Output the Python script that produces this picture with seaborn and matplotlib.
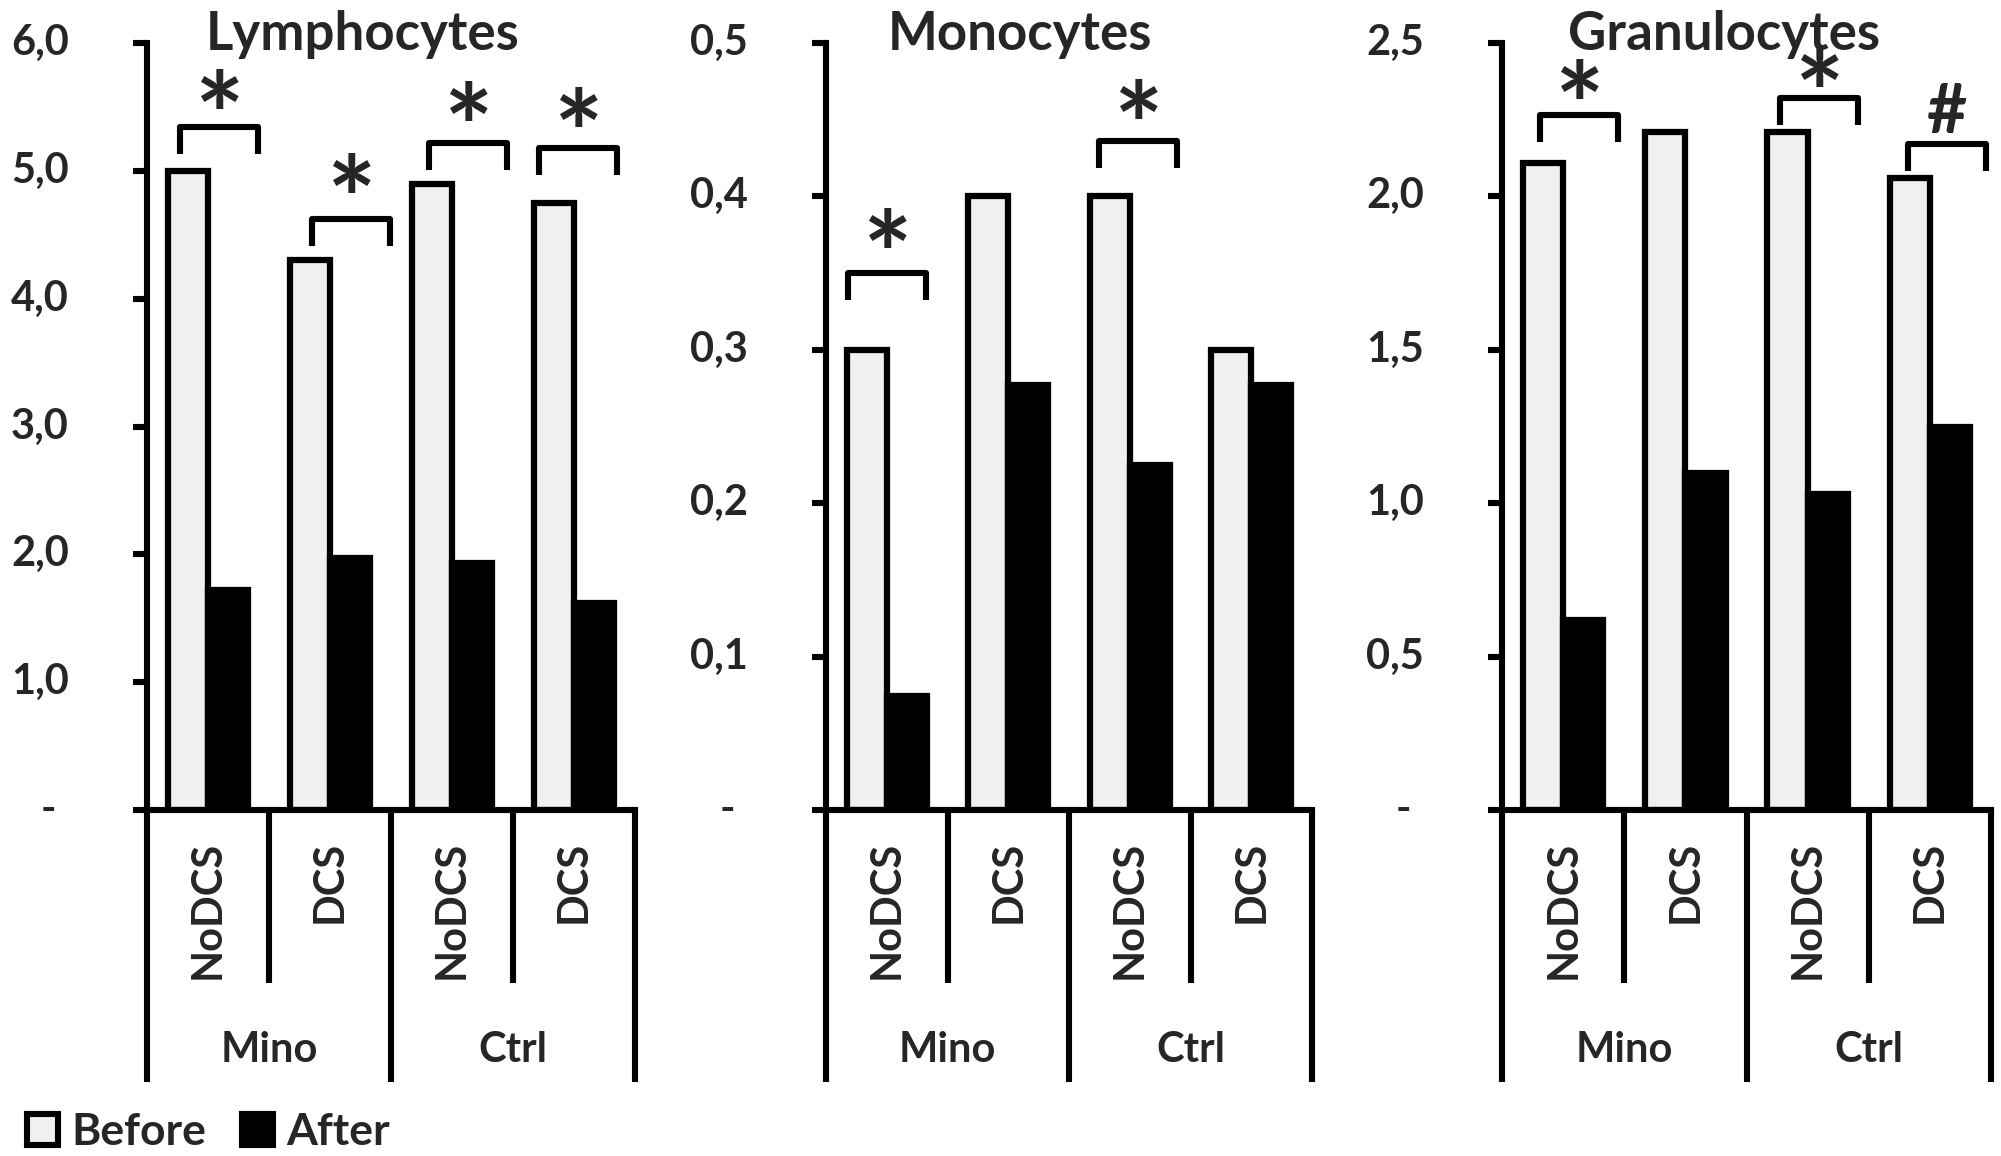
import numpy as np
import pandas as pd
import matplotlib
matplotlib.use('Agg')
import matplotlib.pyplot as plt
import matplotlib.transforms as mtrans
from matplotlib.patches import Patch
import seaborn as sns

sns.set_style('white')
plt.rcParams['font.family'] = ['Lato', 'DejaVu Sans']
plt.rcParams['font.weight'] = 'bold'

# data
conditions = ['NoDCS', 'DCS', 'NoDCS', 'DCS']
treatments = ['Mino', 'Ctrl']
periods = ['Before', 'After']

lymph_before = [5.0, 4.3, 4.9, 4.75]
lymph_after = [1.72, 1.97, 1.93, 1.62]
mono_before = [0.30, 0.40, 0.40, 0.30]
mono_after = [0.074, 0.277, 0.225, 0.277]
gran_before = [2.11, 2.21, 2.21, 2.06]
gran_after = [0.62, 1.10, 1.03, 1.25]

lymph_ticks = ['-', '1,0', '2,0', '3,0', '4,0', '5,0', '6,0']
mono_ticks = ['-', '0,1', '0,2', '0,3', '0,4', '0,5']
gran_ticks = ['-', '0,5', '1,0', '1,5', '2,0', '2,5']

# significance marks: (group, bracket height, symbol, x shift, gap above bracket in px)
lymph_marks = [(0, 5.34, '*', 0.09, 17), (1, 4.62, '*', 0.17, 25), (2, 5.22, '*', 0.13, 20),
               (3, 5.18, '*', 0.03, 19)]
mono_marks = [(0, 0.35, '*', 0.0, 24), (2, 0.436, '*', 0.065, 21)]
gran_marks = [(0, 2.265, '*', 0.13, 15), (2, 2.32, '*', 0.09, 10), (3, 2.17, '#', 0.14, 11)]

colors = {'Before': '#f0f0f0', 'After': 'black'}

W, H = 2001, 1156
fig = plt.figure(figsize=(W / 100, H / 100), dpi=100)

top_px, zero_px = 43, 810
LW = 4.4


def draw_panel(left_px, right_px, before, after, ticklabels, marks, title, title_x):
    ax = fig.add_axes([left_px / W, 1 - zero_px / H, (right_px - left_px) / W, (zero_px - top_px) / H])
    df = pd.DataFrame({
        'group': [0, 1, 2, 3] * 2,
        'period': ['Before'] * 4 + ['After'] * 4,
        'value': before + after,
    })
    sns.barplot(data=df, x='group', y='value', hue='period', hue_order=periods,
                palette=colors, saturation=1, edgecolor='black', linewidth=4.5,
                width=0.66, legend=False, ax=ax)
    ticks = [float(t.replace(',', '.')) if t != '-' else 0.0 for t in ticklabels]
    ymax = ticks[-1]
    ax.set_xlim(-0.5, 3.5)
    ax.set_ylim(0, ymax)
    ax.set_xlabel('')
    ax.set_ylabel('')
    ax.set_xticks([])
    ax.set_yticks(ticks)
    ax.tick_params(axis='y', length=10, width=LW, labelleft=False, left=True, color='black')
    for s in ['top', 'right']:
        ax.spines[s].set_visible(False)
    for s in ['left', 'bottom']:
        ax.spines[s].set_linewidth(LW)
        ax.spines[s].set_color('black')
        ax.spines[s].set_zorder(5)

    # tick labels
    ytrans = ax.get_yaxis_transform()
    for val, lab in zip(ticks, ticklabels):
        if lab == '-':
            off = mtrans.ScaledTranslation(-0.99, 0, fig.dpi_scale_trans)
            ax.text(0, val, lab, transform=ytrans + off, ha='center', va='center', fontsize=30)
        else:
            off = mtrans.ScaledTranslation(-0.78, 0, fig.dpi_scale_trans)
            ax.text(0, val, lab, transform=ytrans + off, ha='right', va='center', fontsize=30)

    # category axis below
    axh = zero_px - top_px
    xtrans = ax.get_xaxis_transform()
    for xb in [0.5, 2.5]:
        ax.plot([xb, xb], [0, -(983 - zero_px) / axh], transform=xtrans, clip_on=False,
                color='black', lw=LW, solid_capstyle='butt')
    for xb in [-0.5, 1.5, 3.5]:
        ax.plot([xb, xb], [0, -(1082 - zero_px) / axh], transform=xtrans, clip_on=False,
                color='black', lw=LW, solid_capstyle='butt')
    for i, c in enumerate(conditions):
        ax.text(i, -(841 - zero_px) / axh, c, transform=xtrans, rotation=90,
                ha='center', va='top', fontsize=30)
    for j, t in enumerate(treatments):
        ax.text(0.5 + 2 * j, -(1050 - zero_px) / axh, t, transform=xtrans,
                ha='center', va='center', fontsize=30)

    ax.text(title_x, (zero_px - 50) / axh, title, transform=ax.transAxes,
            ha='center', va='baseline', fontsize=38)

    # brackets
    leg = 27 / axh * ymax
    for g, h, sym, dx, gap in marks:
        x0, x1 = g + dx - 0.32, g + dx + 0.32
        ax.plot([x0, x0, x1, x1], [h - leg, h, h, h - leg], color='black', lw=LW,
                solid_joinstyle='round', solid_capstyle='butt', clip_on=False)
        if sym == '*':
            ax.annotate(sym, (g + dx, h), xytext=(0, -22 + (gap - 17) / 1.389),
                        textcoords='offset points', ha='center', va='baseline', fontsize=84)
        else:
            ax.annotate(sym, (g + dx, h), xytext=(0, 8 + (gap - 11) / 1.389),
                        textcoords='offset points', ha='center', va='baseline', fontsize=50)
    return ax


draw_panel(147, 635, lymph_before, lymph_after, lymph_ticks, lymph_marks, 'Lymphocytes', 0.443)
draw_panel(826, 1312, mono_before, mono_after, mono_ticks, mono_marks, 'Monocytes', 0.40)
draw_panel(1502, 1991, gran_before, gran_after, gran_ticks, gran_marks, 'Granulocytes', 0.455)

handles = [Patch(facecolor=colors['Before'], edgecolor='black', linewidth=LW),
           Patch(facecolor=colors['After'], edgecolor='black', linewidth=LW)]
fig.legend(handles, periods, loc='center left', bbox_to_anchor=(27 / W, 1 - 1132 / H),
           ncol=2, frameon=False, fontsize=32, handlelength=0.7, handleheight=0.7,
           handletextpad=0.3, columnspacing=0.8, borderpad=0, borderaxespad=0)

fig.savefig('out.png', dpi=100)
